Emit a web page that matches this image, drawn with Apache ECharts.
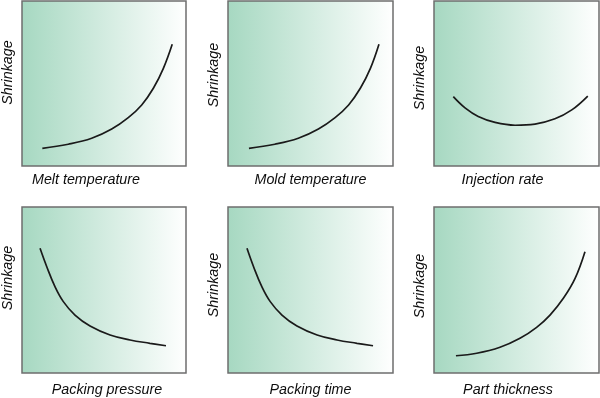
<!DOCTYPE html>
<html>
<head>
<meta charset="utf-8">
<script src="https://cdn.jsdelivr.net/npm/echarts@6/dist/echarts.min.js"></script>
<style>
    html, body {margin: 0; padding: 0; background: #fff;}
    #chart {width: 600px; height: 398px;}
</style>
</head>
<body>
<div id="chart"></div>
<script>
// 各小图的名称
var yName = 'Shrinkage';
var xNames = ['Melt temperature', 'Mold temperature', 'Injection rate',
    'Packing pressure', 'Packing time', 'Part thickness'];

// 曲线数据 (0-100 相对刻度)
var meltX = [12.4, 28.2, 42.5, 54.7, 64.8, 73.0, 80.1, 86.2, 91.6];
var meltY = [10.7, 13.2, 16.8, 22.4, 29.3, 37.0, 47.1, 59.2, 73.8];

var moldX = [12.7, 28.4, 42.6, 54.8, 64.9, 73.1, 80.2, 86.3, 91.5];
var moldY = [10.7, 13.2, 16.8, 22.4, 29.3, 37.0, 47.1, 59.2, 73.8];

var injX = [11.7, 18.8, 26.8, 37.0, 49.1, 61.2, 73.3, 83.5, 93.2];
var injY = [42.0, 35.2, 30.0, 26.4, 24.7, 25.4, 28.6, 34.0, 42.4];

var pressX = [11.0, 15.1, 20.1, 25.2, 32.3, 41.5, 53.7, 65.9, 78.0, 87.8];
var pressY = [75.1, 64.0, 52.0, 43.0, 34.9, 28.3, 22.9, 19.9, 17.9, 16.4];

var timeX = [11.5, 15.5, 20.5, 25.6, 32.7, 41.8, 54.0, 66.1, 78.2, 87.9];
var timeY = [75.1, 64.0, 52.0, 43.0, 34.9, 28.3, 22.9, 19.9, 17.9, 16.4];

var thickX = [13.3, 25.9, 40.0, 52.1, 62.2, 70.3, 78.4, 85.5, 91.5];
var thickY = [10.4, 11.9, 15.5, 20.9, 27.5, 34.9, 45.0, 57.0, 73.1];

var curvesX = [meltX, moldX, injX, pressX, timeX, thickX];
var curvesY = [meltY, moldY, injY, pressY, timeY, thickY];

// 布局
var boxes = [
    {left: 22, top: 1, width: 164, height: 165},
    {left: 228, top: 1, width: 165, height: 165},
    {left: 434, top: 1, width: 165, height: 165},
    {left: 22, top: 207, width: 164, height: 166},
    {left: 228, top: 207, width: 165, height: 166},
    {left: 434, top: 207, width: 165, height: 166}
];
var xShift = [36, 0, 28, -6, 0, 17];   // 横轴标题左右微调
var yShift = [22, 17, 11, 24, 10, 8];  // 纵轴标题上下微调

var chart = echarts.init(document.getElementById('chart'));

var grids = [], xAxes = [], yAxes = [], series = [];
var textStyle = {
    color: '#0d0d0d',
    fontFamily: 'Liberation Sans, Arial, sans-serif',
    fontStyle: 'italic',
    fontSize: 14.3
};

for (var i = 0; i < 6; i++) {
    var b = boxes[i];
    grids.push({
        left: b.left, top: b.top, width: b.width, height: b.height,
        show: true,
        borderColor: '#6e6e6e',
        borderWidth: 1.5,
        backgroundColor: new echarts.graphic.LinearGradient(0, 0, 1, 0, [
            {offset: 0, color: '#a6d8c1'},
            {offset: 1, color: '#ffffff'}
        ])
    });
    var xs = xShift[i];
    xAxes.push({
        gridIndex: i, type: 'value', min: 0, max: 100,
        name: xNames[i], nameLocation: 'middle',
        nameGap: i < 3 ? 7 : 10,
        nameTextStyle: Object.assign({}, textStyle, {
            padding: xs >= 0 ? [0, xs, 0, 0] : [0, 0, 0, -xs]
        }),
        axisLine: {show: false}, axisTick: {show: false},
        axisLabel: {show: false}, splitLine: {show: false}
    });
    var ys = yShift[i];
    yAxes.push({
        gridIndex: i, type: 'value', min: 0, max: 100,
        name: yName, nameLocation: 'middle', nameGap: 7,
        nameTextStyle: Object.assign({}, textStyle, {
            padding: [0, 0, 0, ys]
        }),
        axisLine: {show: false}, axisTick: {show: false},
        axisLabel: {show: false}, splitLine: {show: false}
    });
    var pts = [];
    for (var k = 0; k < curvesX[i].length; k++) {
        pts.push([curvesX[i][k], curvesY[i][k]]);
    }
    series.push({
        type: 'line', xAxisIndex: i, yAxisIndex: i,
        data: pts, smooth: 0.4,
        showSymbol: false, silent: true,
        lineStyle: {color: '#1a1a1a', width: 1.7}
    });
}

chart.setOption({
    animation: false,
    grid: grids,
    xAxis: xAxes,
    yAxis: yAxes,
    series: series
});
</script>
</body>
</html>
